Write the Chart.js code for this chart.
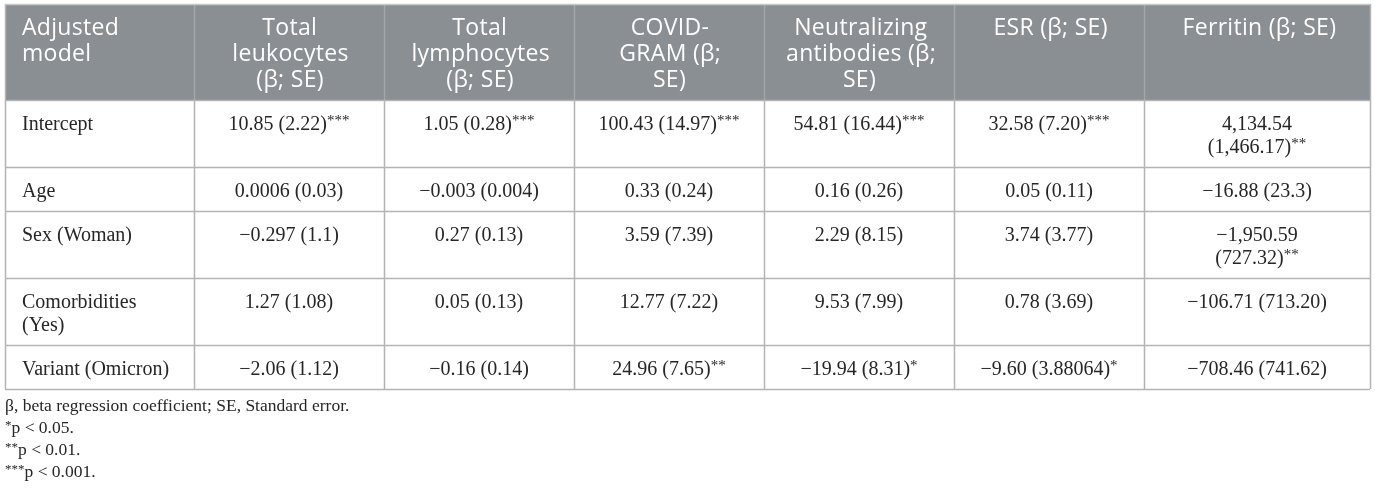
<!DOCTYPE html>
<html>
<head>
<meta charset="utf-8">
<script src="https://cdn.jsdelivr.net/npm/chart.js@4.4.1/dist/chart.umd.min.js"></script>
<style>
  html, body { margin: 0; padding: 0; background: #fff; }
  #wrap { width: 1375px; height: 496px; position: relative; }
</style>
</head>
<body>
<div id="wrap"><canvas id="tbl"></canvas></div>
<script>
// table content
const cornerLabel = ['Adjusted', 'model'];
const outcomeHeaders = [
  ['Total', 'leukocytes', '(β; SE)'],
  ['Total', 'lymphocytes', '(β; SE)'],
  ['COVID-', 'GRAM (β;', 'SE)'],
  ['Neutralizing', 'antibodies (β;', 'SE)'],
  ['ESR (β; SE)'],
  ['Ferritin (β; SE)']
];
const predictors = ['Intercept', 'Age', 'Sex (Woman)', 'Comorbidities (Yes)', 'Variant (Omicron)'];

const leukocytesBeta = ['10.85', '0.0006', '-0.297', '1.27', '-2.06'];
const leukocytesSE   = ['2.22', '0.03', '1.1', '1.08', '1.12'];
const leukocytesSig  = ['***', '', '', '', ''];

const lymphocytesBeta = ['1.05', '-0.003', '0.27', '0.05', '-0.16'];
const lymphocytesSE   = ['0.28', '0.004', '0.13', '0.13', '0.14'];
const lymphocytesSig  = ['***', '', '', '', ''];

const covidGramBeta = ['100.43', '0.33', '3.59', '12.77', '24.96'];
const covidGramSE   = ['14.97', '0.24', '7.39', '7.22', '7.65'];
const covidGramSig  = ['***', '', '', '', '**'];

const antibodiesBeta = ['54.81', '0.16', '2.29', '9.53', '-19.94'];
const antibodiesSE   = ['16.44', '0.26', '8.15', '7.99', '8.31'];
const antibodiesSig  = ['***', '', '', '', '*'];

const esrBeta = ['32.58', '0.05', '3.74', '0.78', '-9.60'];
const esrSE   = ['7.20', '0.11', '3.77', '3.69', '3.88064'];
const esrSig  = ['***', '', '', '', '*'];

const ferritinBeta = ['4,134.54', '-16.88', '-1,950.59', '-106.71', '-708.46'];
const ferritinSE   = ['1,466.17', '23.3', '727.32', '713.20', '741.62'];
const ferritinSig  = ['**', '', '**', '', ''];

const footnote = 'β, beta regression coefficient; SE, Standard error.';
const sigMarks = ['*', '**', '***'];
const sigP = ['0.05', '0.01', '0.001'];

const betaCols = [leukocytesBeta, lymphocytesBeta, covidGramBeta, antibodiesBeta, esrBeta, ferritinBeta];
const seCols = [leukocytesSE, lymphocytesSE, covidGramSE, antibodiesSE, esrSE, ferritinSE];
const sigCols = [leukocytesSig, lymphocytesSig, covidGramSig, antibodiesSig, esrSig, ferritinSig];

// layout / style
const colWidths = [189, 190, 190, 190, 190, 190, 226];
const headerH = 96, headLine = 26, headFirst = 31;
const bodyPad = 21, bodyLine = 23, bodyFirst = 30;
const cellPad = 17, wrapW = 158;
const headFont = '23px "Open Sans"';
const bodyFont = '20px "Liberation Serif"';
const supFont = '15px "Liberation Serif"';
const noteFont = '17.5px "Liberation Serif"';
const noteSup = '13px "Liberation Serif"';
const headBg = '#8a8f93', gridCol = '#b4b4b4', headGrid = '#a3a7aa', ink = '#262626';

const minus = s => s.replace(/^-/, '\u2212');

const mctx = document.createElement('canvas').getContext('2d');
function segWidth(segs, main, sup) {
  let w = 0;
  segs.forEach(s => {
    mctx.font = main; w += mctx.measureText(s.t).width;
    if (s.sup) { mctx.font = sup; w += mctx.measureText(s.sup).width; }
  });
  return w;
}

// build every cell as lines of segments
function wrapWords(text) {
  mctx.font = bodyFont;
  const words = text.split(' ');
  const lines = [];
  let cur = '';
  words.forEach(w => {
    const test = cur ? cur + ' ' + w : w;
    if (cur && mctx.measureText(test).width > wrapW) { lines.push(cur); cur = w; }
    else cur = test;
  });
  lines.push(cur);
  return lines.map(l => [{ t: l, sup: '' }]);
}
function valueLines(b, se, sig) {
  const bt = minus(b), st = '(' + se + ')';
  const one = [{ t: bt + ' ' + st, sup: sig }];
  if (segWidth(one, bodyFont, supFont) <= wrapW) return [one];
  return [[{ t: bt, sup: '' }], [{ t: st, sup: sig }]];
}

const bodyCells = predictors.map((p, r) => {
  const row = [wrapWords(p)];
  for (let c = 0; c < betaCols.length; c++) row.push(valueLines(betaCols[c][r], seCols[c][r], sigCols[c][r]));
  return row;
});
const rowHeights = [headerH].concat(bodyCells.map(row => bodyPad + bodyLine * Math.max(...row.map(l => l.length))));
const rowEdges = [0]; rowHeights.forEach(h => rowEdges.push(rowEdges[rowEdges.length - 1] + h));
const colEdges = [0]; colWidths.forEach(w => colEdges.push(colEdges[colEdges.length - 1] + w));
const totalW = colEdges[colEdges.length - 1], totalH = rowEdges[rowEdges.length - 1];

// one invisible point per cell, at its centre
const cellPoints = [];
for (let r = 0; r < rowHeights.length; r++)
  for (let c = 0; c < colWidths.length; c++)
    cellPoints.push({ x: (colEdges[c] + colEdges[c + 1]) / 2, y: (rowEdges[r] + rowEdges[r + 1]) / 2 });

function drawSegs(ctx, segs, x, y, align, main, sup, shift) {
  const w = segWidth(segs, main, sup);
  let cx = align === 'center' ? x - w / 2 : x;
  ctx.textAlign = 'left';
  segs.forEach(s => {
    ctx.font = main; ctx.fillText(s.t, cx, y); cx += ctx.measureText(s.t).width;
    if (s.sup) { ctx.font = sup; ctx.fillText(s.sup, cx, y - shift); cx += ctx.measureText(s.sup).width; }
  });
}

const tablePlugin = {
  id: 'tablePlugin',
  beforeDraw(chart) {
    const { ctx, scales: { x, y } } = chart;
    const X = v => x.getPixelForValue(v), Y = v => y.getPixelForValue(v);
    ctx.save();
    ctx.fillStyle = '#fff';
    ctx.fillRect(0, 0, chart.width, chart.height);
    ctx.fillStyle = headBg;
    ctx.fillRect(X(0), Y(0), X(totalW) - X(0), Y(headerH) - Y(0));
    ctx.lineWidth = 1.5;
    // vertical rules
    colEdges.forEach((e, i) => {
      const px = Math.round(X(e)) + 0.5;
      ctx.strokeStyle = (i === 0 || i === colEdges.length - 1) ? gridCol : headGrid;
      ctx.beginPath(); ctx.moveTo(px, Y(0)); ctx.lineTo(px, Y(headerH)); ctx.stroke();
      ctx.strokeStyle = gridCol;
      ctx.beginPath(); ctx.moveTo(px, Y(headerH)); ctx.lineTo(px, Y(totalH)); ctx.stroke();
    });
    // horizontal rules
    rowEdges.forEach((e, i) => {
      const py = Math.round(Y(e)) + 0.5;
      ctx.strokeStyle = i === 0 ? '#c6c9ca' : gridCol;
      ctx.beginPath(); ctx.moveTo(X(0), py); ctx.lineTo(X(totalW), py); ctx.stroke();
    });
    ctx.restore();
  },
  afterDraw(chart) {
    const { ctx, scales: { x, y }, chartArea } = chart;
    const X = v => x.getPixelForValue(v), Y = v => y.getPixelForValue(v);
    ctx.save();
    ctx.textBaseline = 'alphabetic';
    // header
    ctx.fillStyle = '#fff';
    ctx.letterSpacing = '0.3px';
    const heads = [cornerLabel].concat(outcomeHeaders);
    heads.forEach((lines, c) => {
      lines.forEach((t, i) => {
        const yy = Y(0) + headFirst + i * headLine;
        const xx = c === 0 ? X(colEdges[0]) + cellPad : X((colEdges[c] + colEdges[c + 1]) / 2);
        drawSegs(ctx, [{ t, sup: '' }], xx, yy, c === 0 ? 'left' : 'center', headFont, headFont, 0);
      });
    });
    ctx.letterSpacing = '0px';
    // body
    ctx.fillStyle = ink;
    bodyCells.forEach((row, r) => {
      const top = Y(rowEdges[r + 1]);
      row.forEach((lines, c) => {
        lines.forEach((segs, i) => {
          const yy = top + bodyFirst + i * bodyLine;
          const xx = c === 0 ? X(colEdges[0]) + cellPad : X((colEdges[c] + colEdges[c + 1]) / 2);
          drawSegs(ctx, segs, xx, yy, c === 0 ? 'left' : 'center', bodyFont, supFont, 5);
        });
      });
    });
    // footnotes
    const fx = chartArea.left;
    let fy = chartArea.bottom + 22;
    drawSegs(ctx, [{ t: footnote, sup: '' }], fx, fy, 'left', noteFont, noteSup, 0);
    sigMarks.forEach((m, i) => {
      fy += 22;
      ctx.font = noteSup; ctx.textAlign = 'left';
      ctx.fillText(m, fx, fy - 4);
      const mw = ctx.measureText(m).width;
      ctx.font = noteFont;
      ctx.fillText('p < ' + sigP[i] + '.', fx + mw, fy);
    });
    ctx.restore();
  }
};

new Chart(document.getElementById('tbl'), {
  type: 'scatter',
  data: { datasets: [{ data: cellPoints, pointRadius: 0, pointHoverRadius: 0 }] },
  options: {
    responsive: true,
    maintainAspectRatio: false,
    animation: false,
    events: [],
    layout: { padding: { left: 5, right: 5, top: 4, bottom: 496 - 4 - totalH } },
    scales: {
      x: { type: 'linear', min: 0, max: totalW, display: false },
      y: { type: 'linear', min: 0, max: totalH, reverse: true, display: false }
    },
    plugins: { legend: { display: false }, tooltip: { enabled: false } }
  },
  plugins: [tablePlugin]
});
</script>
</body>
</html>
